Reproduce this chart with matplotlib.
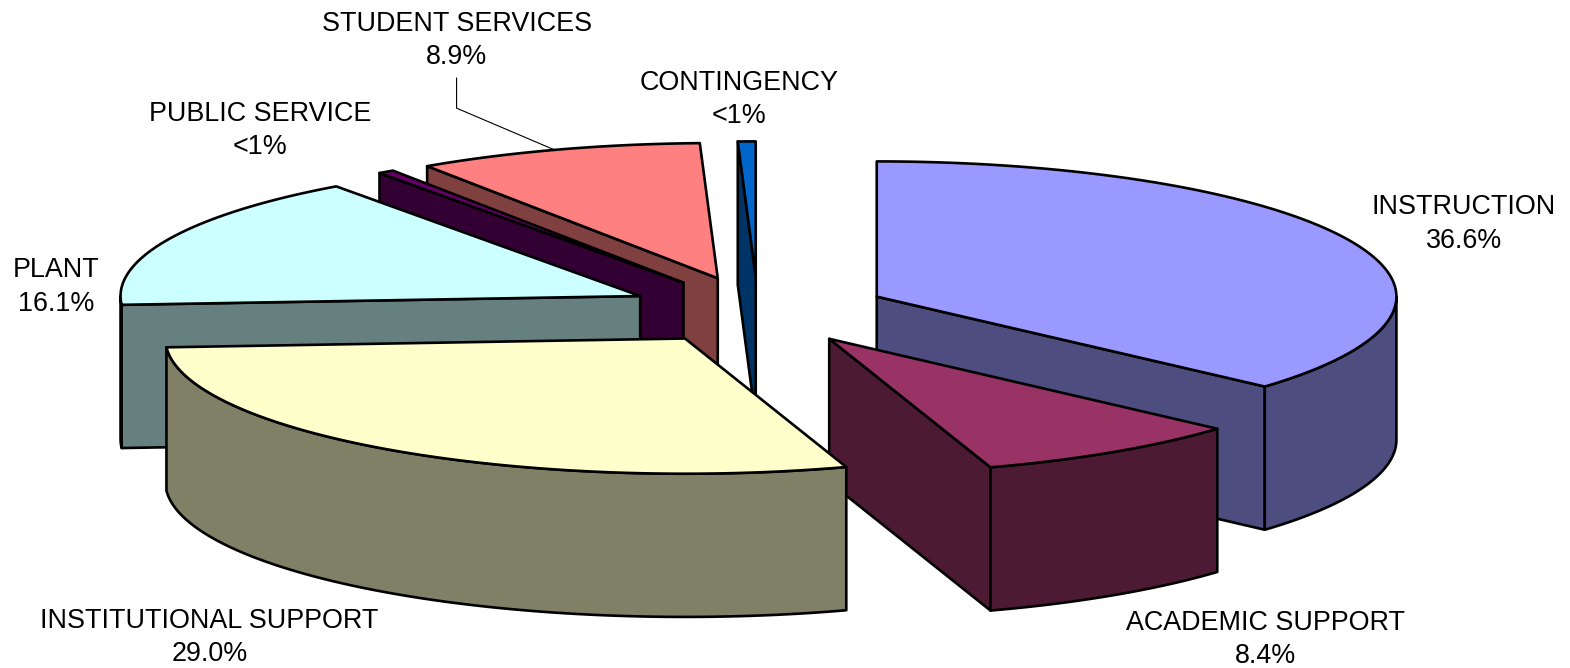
#!/usr/bin/env python3
"""Exploded 3D-style budget pie, projected by hand onto a flat axes."""
import numpy as np
import matplotlib
matplotlib.use("Agg")
import matplotlib.pyplot as plt
from matplotlib.patches import Polygon

plt.rcParams.update({"font.family": ["Liberation Sans", "DejaVu Sans"], "font.size": 19.4})

# slices clockwise from 12 o'clock; the two "<1%" shares are estimates
names = ["INSTRUCTION", "ACADEMIC SUPPORT", "INSTITUTIONAL SUPPORT", "PLANT",
         "PUBLIC SERVICE", "STUDENT SERVICES", "CONTINGENCY"]
shares = [36.6, 8.4, 29.0, 16.1, 0.5, 8.9, 0.55]
share_labels = ["36.6%", "8.4%", "29.0%", "16.1%", "<1%", "8.9%", "<1%"]
top_colors = ["#9999FF", "#993366", "#FFFFCC", "#CCFFFF", "#660066", "#FF8080", "#0066CC"]
side_colors = ["#4D4D80", "#4D1A33", "#808066", "#668080", "#330033", "#804040", "#003366"]

# geometry, in pixels of the canvas
CX, CY = 757, 310
RX, RY = 519, 135
DEPTH = 143
EXPLODE = 130
LW = 1.9

label_xy = [(1462, 223.5), (1264, 638.5), (209, 636.5), (56, 286.5), (260, 130.5), (456, 40.5), (738, 99.5)]
leader_x = [456, 456, 557]
leader_y = [78, 108, 151]
# back to front
draw_order = [6, 5, 4, 3, 0, 1, 2]


def rim(ang):
    return RX * np.sin(ang), -RY * np.cos(ang)


def face(ax, xs, ys, color, z):
    ax.add_patch(Polygon(np.column_stack([xs, ys]), closed=True, facecolor=color,
                         edgecolor="black", lw=LW, joinstyle="round", zorder=z))


def draw_slice(ax, t0, t1, top, side, z):
    mid = (t0 + t1) / 2
    ox = CX + EXPLODE * np.sin(mid)
    oy = CY - EXPLODE * RY / RX * np.cos(mid)

    # radial walls, only when they face the viewer
    if np.sin(t0) < 0:
        x, y = rim(t0)
        face(ax, [ox, ox + x, ox + x, ox], [oy, oy + y, oy + y + DEPTH, oy + DEPTH], side, z)
    if np.sin(t1) > 0:
        x, y = rim(t1)
        face(ax, [ox, ox + x, ox + x, ox], [oy, oy + y, oy + y + DEPTH, oy + DEPTH], side, z)

    # outer rim on the front half
    a0, a1 = max(t0, np.pi / 2), min(t1, 3 * np.pi / 2)
    if a1 > a0:
        ang = np.linspace(a0, a1, 120)
        x, y = rim(ang)
        face(ax, np.r_[ox + x, ox + x[::-1]], np.r_[oy + y, oy + y[::-1] + DEPTH], side, z)

    ang = np.linspace(t0, t1, 200)
    x, y = rim(ang)
    face(ax, np.r_[ox, ox + x], np.r_[oy, oy + y], top, z)


def main():
    fig = plt.figure(figsize=(15.70, 6.68), dpi=100, facecolor="white")
    ax = fig.add_axes([0, 0, 1, 1])
    ax.set_xlim(0, 1568)
    ax.set_ylim(667, 0)
    ax.axis("off")

    edges = np.r_[0, np.cumsum(shares)] / np.sum(shares) * 2 * np.pi
    for z, i in enumerate(draw_order):
        draw_slice(ax, edges[i], edges[i + 1], top_colors[i], side_colors[i], z + 2)

    ax.plot(leader_x, leader_y, color="black", lw=0.8, zorder=1)
    for name, lab, (x, y) in zip(names, share_labels, label_xy):
        ax.text(x, y, name + "\n" + lab, ha="center", va="center", color="black",
                multialignment="center", linespacing=1.38, zorder=20)

    fig.savefig("out.png", dpi=100)


if __name__ == "__main__":
    main()
